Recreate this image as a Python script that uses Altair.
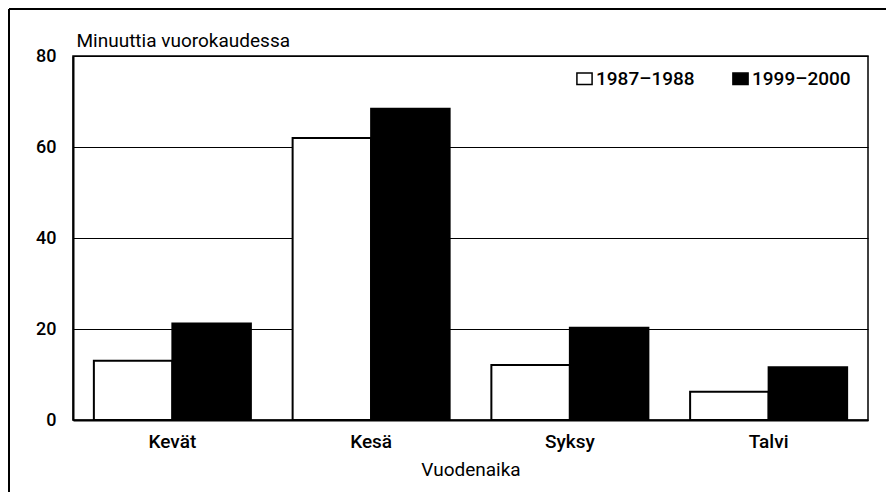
import altair as alt
import pandas as pd

seasons = ["Kevät", "Kesä", "Syksy", "Talvi"]
periods = ["1987–1988", "1999–2000"]
values_1987 = [13.0, 62.0, 12.1, 6.2]
values_1999 = [21.2, 68.4, 20.3, 11.6]

rows = []
for s, a, b in zip(seasons, values_1987, values_1999):
    rows.append({"Vuodenaika": s, "Jakso": periods[0], "Minuuttia": a})
    rows.append({"Vuodenaika": s, "Jakso": periods[1], "Minuuttia": b})
df = pd.DataFrame(rows)

FONT = "Roboto"
W, H = 795, 364

bars = alt.Chart(df).mark_bar(stroke="black", strokeWidth=2).encode(
    x=alt.X("Vuodenaika:N", sort=seasons, title="Vuodenaika",
            scale=alt.Scale(paddingInner=0.21, paddingOuter=0.105),
            axis=alt.Axis(labelAngle=0, ticks=False, domainColor="black", domainWidth=2,
                          labelFontSize=19, labelFontWeight=500, labelPadding=12,
                          titleFontSize=19, titleFontWeight="normal", titlePadding=9)),
    xOffset=alt.XOffset("Jakso:N", sort=periods, scale=alt.Scale(paddingInner=0)),
    y=alt.Y("Minuuttia:Q", scale=alt.Scale(domain=[0, 80]),
            axis=alt.Axis(values=[0, 20, 40, 60, 80], ticks=False, grid=True,
                          gridColor="black", gridWidth=1, gridOpacity=1,
                          domainColor="black", domainWidth=2,
                          labelFontSize=18, labelFontWeight=500, labelPadding=17,
                          title="Minuuttia vuorokaudessa", titleAngle=0,
                          titleAlign="left", titleBaseline="alphabetic",
                          titleX=3, titleY=-10, titleFontSize=19,
                          titleFontWeight="normal")),
    color=alt.Color("Jakso:N", sort=periods,
                    scale=alt.Scale(domain=periods, range=["white", "black"]),
                    legend=alt.Legend(title=None, orient="none", legendX=502, legendY=13,
                                      direction="horizontal", columnPadding=34,
                                      symbolType="M-1,-0.75H1V0.75H-1Z",
                                      symbolSize=230, symbolStrokeColor="black",
                                      symbolStrokeWidth=1.5, symbolOpacity=1,
                                      labelFontSize=19, labelFontWeight=500,
                                      labelOffset=2)),
)

frame_df = pd.DataFrame({"k": [0]})
top_line = alt.Chart(frame_df).mark_rule(color="black", strokeWidth=2).encode(
    x=alt.value(-64), x2=alt.value(825), y=alt.value(-47))
left_line = alt.Chart(frame_df).mark_rule(color="black", strokeWidth=2).encode(
    x=alt.value(-64), y=alt.value(-47), y2=alt.value(440))

chart = alt.layer(bars, top_line, left_line).properties(
    width=W, height=H,
    autosize=alt.AutoSizeParams(type="none"),
    padding={"left": 65, "top": 48, "right": 18, "bottom": 72},
).configure(font=FONT).configure_view(stroke="black", strokeWidth=1.5
).configure_axis(labelColor="black", titleColor="black"
).configure_legend(labelColor="black")

chart.save("out.html", embed_options={"renderer": "svg", "actions": False})
